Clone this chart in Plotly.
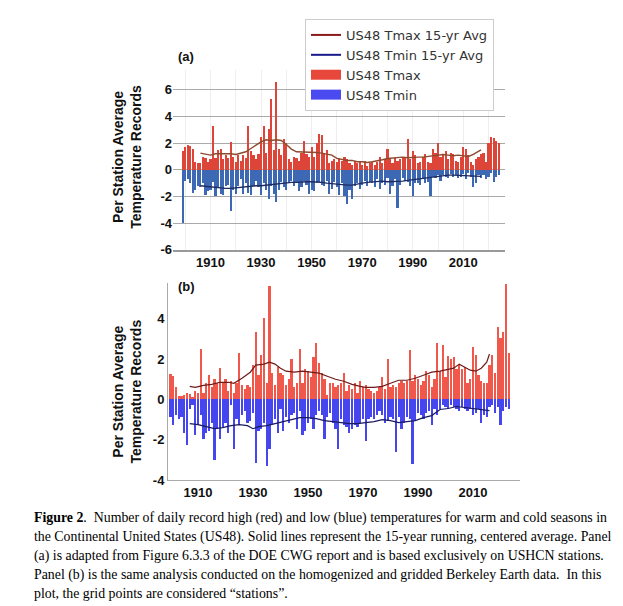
import plotly.graph_objects as go

W, H = 623, 606

# ---------------- Panel (a): USHCN ----------------
years_a = list(range(1899, 2025))
tmax_a = [
    1.4, 1.7, 1.9, 1.8, 1.6, 0.6, 0.5, 0.5, 1.0, 0.9,
    0.6, 0.8, 3.3, 0.9, 1.5, 1.6, 0.8, 1.1, 0.9, 2.1,
    1.0, 0.6, 1.1, 0.7, 1.1, 0.9, 3.3, 1.4, 1.1, 0.8,
    1.2, 2.5, 3.3, 1.3, 3.1, 5.3, 1.5, 6.6, 1.6, 1.1,
    2.3, 2.0, 0.8, 0.6, 1.0, 0.9, 0.7, 1.3, 2.2, 1.2,
    1.0, 1.7, 1.0, 2.0, 2.7, 2.6, 1.2, 1.5, 0.5, 0.7,
    0.8, 0.6, 0.9, 0.7, 1.0, 0.8, 0.5, 0.4, 0.7, 0.5,
    0.6, 0.4, 0.7, 0.3, 0.5, 0.6, 0.4, 0.6, 1.0, 0.5,
    0.8, 1.6, 0.9, 0.5, 0.9, 0.7, 0.8, 0.9, 1.0, 2.3,
    0.8, 1.4, 1.1, 0.5, 0.6, 1.0, 1.2, 0.6, 0.5, 1.6,
    1.3, 2.0, 1.0, 1.1, 1.4, 0.8, 1.3, 1.2, 0.7, 0.6,
    1.0, 1.7, 1.6, 1.1, 0.6, 0.4, 0.8, 1.0, 1.2, 1.3,
    0.6, 2.0, 2.5, 2.4, 2.2, 2.0,
]
tmin_a = [
    -4.0, -0.8, -0.7, -1.0, -1.7, -1.5, -1.2, -1.3, -1.0, -1.9,
    -1.6, -1.5, -0.9, -2.0, -1.3, -1.8, -1.9, -1.2, -1.1, -3.1,
    -1.5, -1.8, -1.2, -0.7, -1.8, -1.0, -1.7, -1.9, -1.2, -0.8,
    -1.3, -1.9, -1.0, -1.5, -2.2, -1.2, -1.8, -2.4, -1.5, -0.9,
    -1.3, -1.5, -1.0, -0.8, -1.2, -0.9, -1.6, -1.3, -0.8, -1.1,
    -1.8, -1.5, -1.6, -1.0, -0.9, -1.1, -1.2, -0.8, -1.8, -1.4,
    -0.9, -1.3, -1.9, -1.0, -2.0, -2.6, -1.5, -2.2, -1.2, -1.0,
    -1.4, -1.1, -0.8, -1.2, -0.9, -1.0, -1.3, -0.7, -1.4, -1.0,
    -1.1, -0.6, -1.8, -1.2, -0.7, -2.9, -1.1, -0.6, -0.8, -0.9,
    -1.2, -2.0, -1.0, -1.0, -1.1, -0.6, -1.0, -0.9, -2.0, -0.5,
    -0.6, -0.4, -0.8, -0.4, -0.5, -0.6, -0.3, -0.5, -0.4, -0.6,
    -0.5, -0.3, -0.7, -0.2, -0.5, -1.3, -1.0, -0.4, -0.6, -0.4,
    -0.7, -0.5, -0.2, -0.9, -0.5, -0.4,
]
avg_years_a = list(range(1906, 2017, 2)) + [2017]
tmax_avg_a = [
    1.25, 1.15, 1.1, 1.2, 1.2, 1.25, 1.2, 1.15, 1.25, 1.35,
    1.6, 1.85, 2.1, 2.25, 2.2, 2.25, 2.2, 1.9, 1.55, 1.35,
    1.35, 1.3, 1.35, 1.3, 1.25, 1.2, 1.1, 0.85, 0.75, 0.7,
    0.7, 0.6, 0.6, 0.55, 0.6, 0.65, 0.75, 0.85, 0.9, 0.9,
    0.95, 0.9, 0.95, 0.95, 0.95, 1.0, 1.05, 1.1, 1.15, 1.1,
    1.05, 1.1, 1.05, 1.0, 1.15, 1.4, 1.5,
]
tmin_avg_a = [
    -1.2, -1.25, -1.3, -1.35, -1.4, -1.4, -1.4, -1.35, -1.3, -1.25,
    -1.2, -1.2, -1.2, -1.15, -1.1, -1.1, -1.05, -1.0, -0.95, -0.95,
    -0.9, -0.9, -0.9, -0.9, -0.95, -1.0, -1.05, -1.1, -1.1, -1.15,
    -1.15, -1.05, -1.0, -0.95, -0.9, -0.85, -0.85, -0.9, -0.9, -0.85,
    -0.85, -0.8, -0.75, -0.7, -0.65, -0.6, -0.5, -0.45, -0.42, -0.4,
    -0.4, -0.42, -0.45, -0.47, -0.48, -0.5, -0.5,
]

# ---------------- Panel (b): Berkeley Earth ----------------
years_b = list(range(1900, 2024))
tmax_b = [
    1.25, 1.15, 0.6, 0.15, 0.15, 0.2, 0.3, 0.25, 0.1, 0.4,
    0.3, 2.5, 0.3, 0.8, 1.2, 0.6, 1.0, 0.8, 1.55, 0.8,
    1.0, 0.4, 0.9, 0.3, 0.8, 2.3, 0.7, 0.5, 0.7, 0.6,
    1.7, 3.3, 1.2, 2.2, 4.0, 0.8, 5.6, 1.3, 0.7, 1.6,
    1.3, 1.2, 0.7, 1.0, 2.0, 0.6, 0.8, 2.5, 0.8, 1.5,
    1.4, 1.1, 2.1, 2.8, 1.8, 1.3, 1.0, 0.2, 0.8, 0.8,
    0.6, 0.7, 0.8, 1.3, 0.4, 0.7, 0.5, 0.8, 0.3, 0.9,
    0.6, 0.7, 0.5, 0.4, 0.3, 0.4, 0.6, 1.1, 0.5, 2.0,
    0.6, 0.7, 0.6, 0.8, 0.9, 0.8, 0.9, 2.45, 0.9, 1.2,
    1.0, 0.7, 0.9, 1.4, 1.2, 0.6, 1.0, 2.8, 1.4, 2.7,
    1.1, 2.15, 2.0, 2.1, 1.5, 1.7, 1.5, 1.6, 0.8, 1.0,
    2.6, 2.2, 1.2, 0.9, 0.8, 0.8, 1.7, 2.2, 1.3, 3.55,
    3.0, 3.3, 5.7, 2.3,
]
tmin_b = [
    -0.9, -1.3, -0.8, -1.0, -0.9, -1.7, -2.3, -0.5, -0.3, -1.8,
    -1.3, -0.8, -2.0, -1.7, -1.6, -1.2, -3.0, -1.5, -2.0, -1.4,
    -1.2, -1.7, -0.3, -2.5, -1.0, -1.3, -0.8, -0.6, -1.2, -1.1,
    -0.7, -3.15, -1.6, -1.5, -1.2, -3.3, -2.5, -1.3, -1.0, -1.7,
    -0.5, -1.6, -0.9, -1.2, -0.8, -0.7, -1.5, -0.6, -1.8, -1.6,
    -1.2, -1.0, -1.5, -0.8, -0.6, -0.8, -2.0, -0.9, -0.7, -1.2,
    -1.5, -2.5, -1.0, -1.3, -1.4, -1.7, -1.5, -1.3, -1.4, -1.2,
    -1.0, -2.1, -1.0, -0.9, -1.0, -0.8, -0.6, -0.8, -1.2, -1.1,
    -0.9, -1.0, -2.65, -0.9, -1.5, -1.2, -0.9, -1.0, -3.2, -1.1,
    -0.7, -0.8, -1.0, -0.7, -0.6, -1.3, -0.5, -0.8, -0.5, -0.3,
    -0.4, -0.5, -0.3, -0.4, -0.5, -0.6, -0.4, -0.5, -0.6, -0.5,
    -0.8, -0.7, -0.5, -1.2, -0.8, -0.9, -0.4, -0.3, -0.7, -0.4,
    -1.3, -0.6, -0.4, -0.5,
]
tmax_avg_years_b = [1907, 1909, 1912, 1915, 1918, 1921, 1923, 1926, 1929, 1931,
                    1934, 1936, 1938, 1940, 1942, 1945, 1948, 1951, 1954, 1957,
                    1960, 1963, 1966, 1969, 1971, 1974, 1977, 1980, 1983, 1986,
                    1989, 1992, 1995, 1998, 2001, 2003, 2005, 2007, 2009, 2011,
                    2013, 2015, 2016]
tmax_avg_b = [0.65, 0.6, 0.7, 0.75, 0.85, 0.85, 0.8, 1.05, 1.35, 1.7,
              1.75, 1.85, 1.75, 1.55, 1.4, 1.35, 1.4, 1.35, 1.3, 1.15,
              1.0, 0.9, 0.75, 0.65, 0.6, 0.6, 0.65, 0.8, 0.95, 0.95,
              1.05, 1.2, 1.35, 1.4, 1.5, 1.55, 1.75, 1.6, 1.45, 1.4,
              1.55, 1.85, 2.25]
tmin_avg_years_b = [1907, 1910, 1913, 1916, 1919, 1922, 1925, 1928, 1930, 1932,
                    1935, 1938, 1941, 1944, 1947, 1950, 1953, 1956, 1959, 1962,
                    1965, 1968, 1971, 1974, 1977, 1980, 1983, 1986, 1989, 1992,
                    1995, 1998, 2001, 2004, 2007, 2010, 2013, 2016]
tmin_avg_b = [-1.2, -1.25, -1.35, -1.45, -1.4, -1.3, -1.25, -1.3, -1.45, -1.35,
              -1.3, -1.2, -1.1, -1.0, -0.9, -0.9, -0.95, -1.05, -1.1, -1.15,
              -1.2, -1.2, -1.15, -1.1, -1.0, -1.05, -1.15, -1.1, -1.05, -0.9,
              -0.8, -0.5, -0.45, -0.35, -0.4, -0.45, -0.5, -0.55]

# ---------------- Axis ticks / text ----------------
year_ticks = [1910, 1930, 1950, 1970, 1990, 2010]
year_tick_labels = ["1910", "1930", "1950", "1970", "1990", "2010"]
decade_grid = [1900, 1920, 1940, 1960, 1980, 2000, 2020]
ytick_a = [-6, -4, -2, 0, 2, 4, 6]
ytick_labels_a = ["-6", "-4", "-2", "0", "2", "4", "6"]
ytick_b = [-4, -2, 0, 2, 4]
ytick_labels_b = ["-4", "-2", "0", "2", "4"]
legend_names = ["US48 Tmax 15-yr Avg", "US48 Tmin 15-yr Avg", "US48 Tmax", "US48 Tmin"]
y_title = "Per Station Average<br>Temperature Records"
caption_lines = [
    "<b>Figure 2</b>.  Number of daily record high (red) and low (blue) temperatures for warm and cold seasons in",
    "the Continental United States (US48). Solid lines represent the 15-year running, centered average. Panel",
    "(a) is adapted from Figure 6.3.3 of the DOE CWG report and is based exclusively on USHCN stations.",
    "Panel (b) is the same analysis conducted on the homogenized and gridded Berkeley Earth data.  In this",
    "plot, the grid points are considered \u201cstations\u201d.",
]

# colours
RED_A, BLUE_A = "#de4539", "#3c68b4"
RED_B, BLUE_B = "#f0584c", "#4646ee"
LINE_MAX_A, LINE_MIN_A = "#8c4a2e", "#1f2a60"
LINE_MAX_B, LINE_MIN_B = "#6e1a1a", "#1a1a5e"

KY = 1.012  # small vertical correction measured against the reference


def fx(p):
    return p / W


def fy(p):
    return 1 - p * KY / H


fig = go.Figure()

# legend entries (drawn only in legend)
fig.add_trace(go.Scatter(x=[None], y=[None], mode="lines", name=legend_names[0],
                         line=dict(color="#8b1a1a", width=2), xaxis="x", yaxis="y"))
fig.add_trace(go.Scatter(x=[None], y=[None], mode="lines", name=legend_names[1],
                         line=dict(color="#1a1a8b", width=2), xaxis="x", yaxis="y"))
fig.add_trace(go.Scatter(x=[None], y=[None], mode="lines", name=legend_names[2],
                         line=dict(color="#e8473c", width=12), xaxis="x", yaxis="y"))
fig.add_trace(go.Scatter(x=[None], y=[None], mode="lines", name=legend_names[3],
                         line=dict(color="#4a4af0", width=12), xaxis="x", yaxis="y"))

# panel a
fig.add_trace(go.Bar(x=years_a, y=tmax_a, marker=dict(color=RED_A, line=dict(width=0)),
                     width=0.85, xaxis="x", yaxis="y", showlegend=False))
fig.add_trace(go.Bar(x=years_a, y=tmin_a, marker=dict(color=BLUE_A, line=dict(width=0)),
                     width=0.85, xaxis="x", yaxis="y", showlegend=False))
fig.add_trace(go.Scatter(x=avg_years_a, y=tmax_avg_a, mode="lines",
                         line=dict(color=LINE_MAX_A, width=1.4), xaxis="x", yaxis="y", showlegend=False))
fig.add_trace(go.Scatter(x=avg_years_a, y=tmin_avg_a, mode="lines",
                         line=dict(color=LINE_MIN_A, width=1.4), xaxis="x", yaxis="y", showlegend=False))

# panel b
fig.add_trace(go.Bar(x=years_b, y=tmax_b, marker=dict(color=RED_B, line=dict(width=0)),
                     width=0.85, xaxis="x2", yaxis="y2", showlegend=False))
fig.add_trace(go.Bar(x=years_b, y=tmin_b, marker=dict(color=BLUE_B, line=dict(width=0)),
                     width=0.85, xaxis="x2", yaxis="y2", showlegend=False))
fig.add_trace(go.Scatter(x=tmax_avg_years_b, y=tmax_avg_b, mode="lines",
                         line=dict(color=LINE_MAX_B, width=1.2), xaxis="x2", yaxis="y2", showlegend=False))
fig.add_trace(go.Scatter(x=tmin_avg_years_b, y=tmin_avg_b, mode="lines",
                         line=dict(color=LINE_MIN_B, width=1.2), xaxis="x2", yaxis="y2", showlegend=False))

tick_font = dict(family="Liberation Sans, Arial, sans-serif", size=13, color="#111111", weight="bold")

fig.update_layout(
    width=W, height=H, autosize=False,
    margin=dict(l=0, r=0, t=0, b=0),
    paper_bgcolor="white", plot_bgcolor="rgba(0,0,0,0)",
    barmode="overlay", bargap=0,
    showlegend=True,
    legend=dict(x=fx(305), y=fy(19), xanchor="left", yanchor="top",
                bgcolor="white", bordercolor="#cccccc", borderwidth=1,
                font=dict(family="DejaVu Sans", size=13, color="#333333"),
                itemwidth=30, tracegroupgap=0),
    xaxis=dict(domain=[fx(173), fx(505)], range=[1895.17, 2026.5], anchor="y",
               tickmode="array", tickvals=year_ticks, ticktext=year_tick_labels,
               tickfont=tick_font, ticks="", showgrid=True, gridcolor="#eeeeee",
               minor=dict(tickmode="array", tickvals=decade_grid, showgrid=True, gridcolor="#eeeeee"),
               showline=True, linecolor="#999999", linewidth=1.5, zeroline=False),
    yaxis=dict(domain=[fy(250), fy(70)], range=[-6, 7.5], anchor="x",
               tickmode="array", tickvals=ytick_a, ticktext=ytick_labels_a,
               tickfont=tick_font, ticks="", showgrid=True, gridcolor="#aaaaaa", gridwidth=1,
               zeroline=False, showline=False),
    xaxis2=dict(domain=[fx(168), fx(520)], range=[1899.09, 2027.1], anchor="y2",
                tickmode="array", tickvals=year_ticks, ticktext=year_tick_labels,
                tickfont=tick_font, ticks="", showgrid=False,
                showline=True, linecolor="#aaaaaa", linewidth=1, zeroline=False),
    yaxis2=dict(domain=[fy(480.8), fy(283.8)], range=[-4, 5.75], anchor="x2",
                tickmode="array", tickvals=ytick_b, ticktext=ytick_labels_b,
                tickfont=tick_font, ticks="", showgrid=False,
                showline=True, linecolor="#aaaaaa", linewidth=1, zeroline=False),
)

annos = []
lbl_font = dict(family="Liberation Sans", size=13, color="#111")
annos.append(dict(x=fx(186), y=fy(57), xref="paper", yref="paper", text="<b>(a)</b>",
                  xanchor="center", yanchor="middle", showarrow=False, font=lbl_font))
annos.append(dict(x=fx(186), y=fy(287), xref="paper", yref="paper", text="<b>(b)</b>",
                  xanchor="center", yanchor="middle", showarrow=False, font=lbl_font))
for cy in (157, 392):
    annos.append(dict(x=fx(127), y=fy(cy), xref="paper", yref="paper", text="<b>" + y_title + "</b>",
                      textangle=-90, xanchor="center", yanchor="middle", showarrow=False,
                      font=dict(family="Liberation Sans", size=14, color="#111")))
cap_y = [519, 538, 557, 576, 594.5]
for line, cy in zip(caption_lines, cap_y):
    annos.append(dict(x=fx(32), y=fy(cy), xref="paper", yref="paper", text=line,
                      xanchor="left", yanchor="middle", showarrow=False,
                      font=dict(family="Liberation Serif", size=13.85, color="#000")))
fig.update_layout(annotations=annos)

fig.write_html(
    "out.html",
    config={"displayModeBar": False},
    post_script="document.body.style.margin='0px';"
                "document.body.style.overflow='hidden';"
                "document.documentElement.style.overflow='hidden';",
)
